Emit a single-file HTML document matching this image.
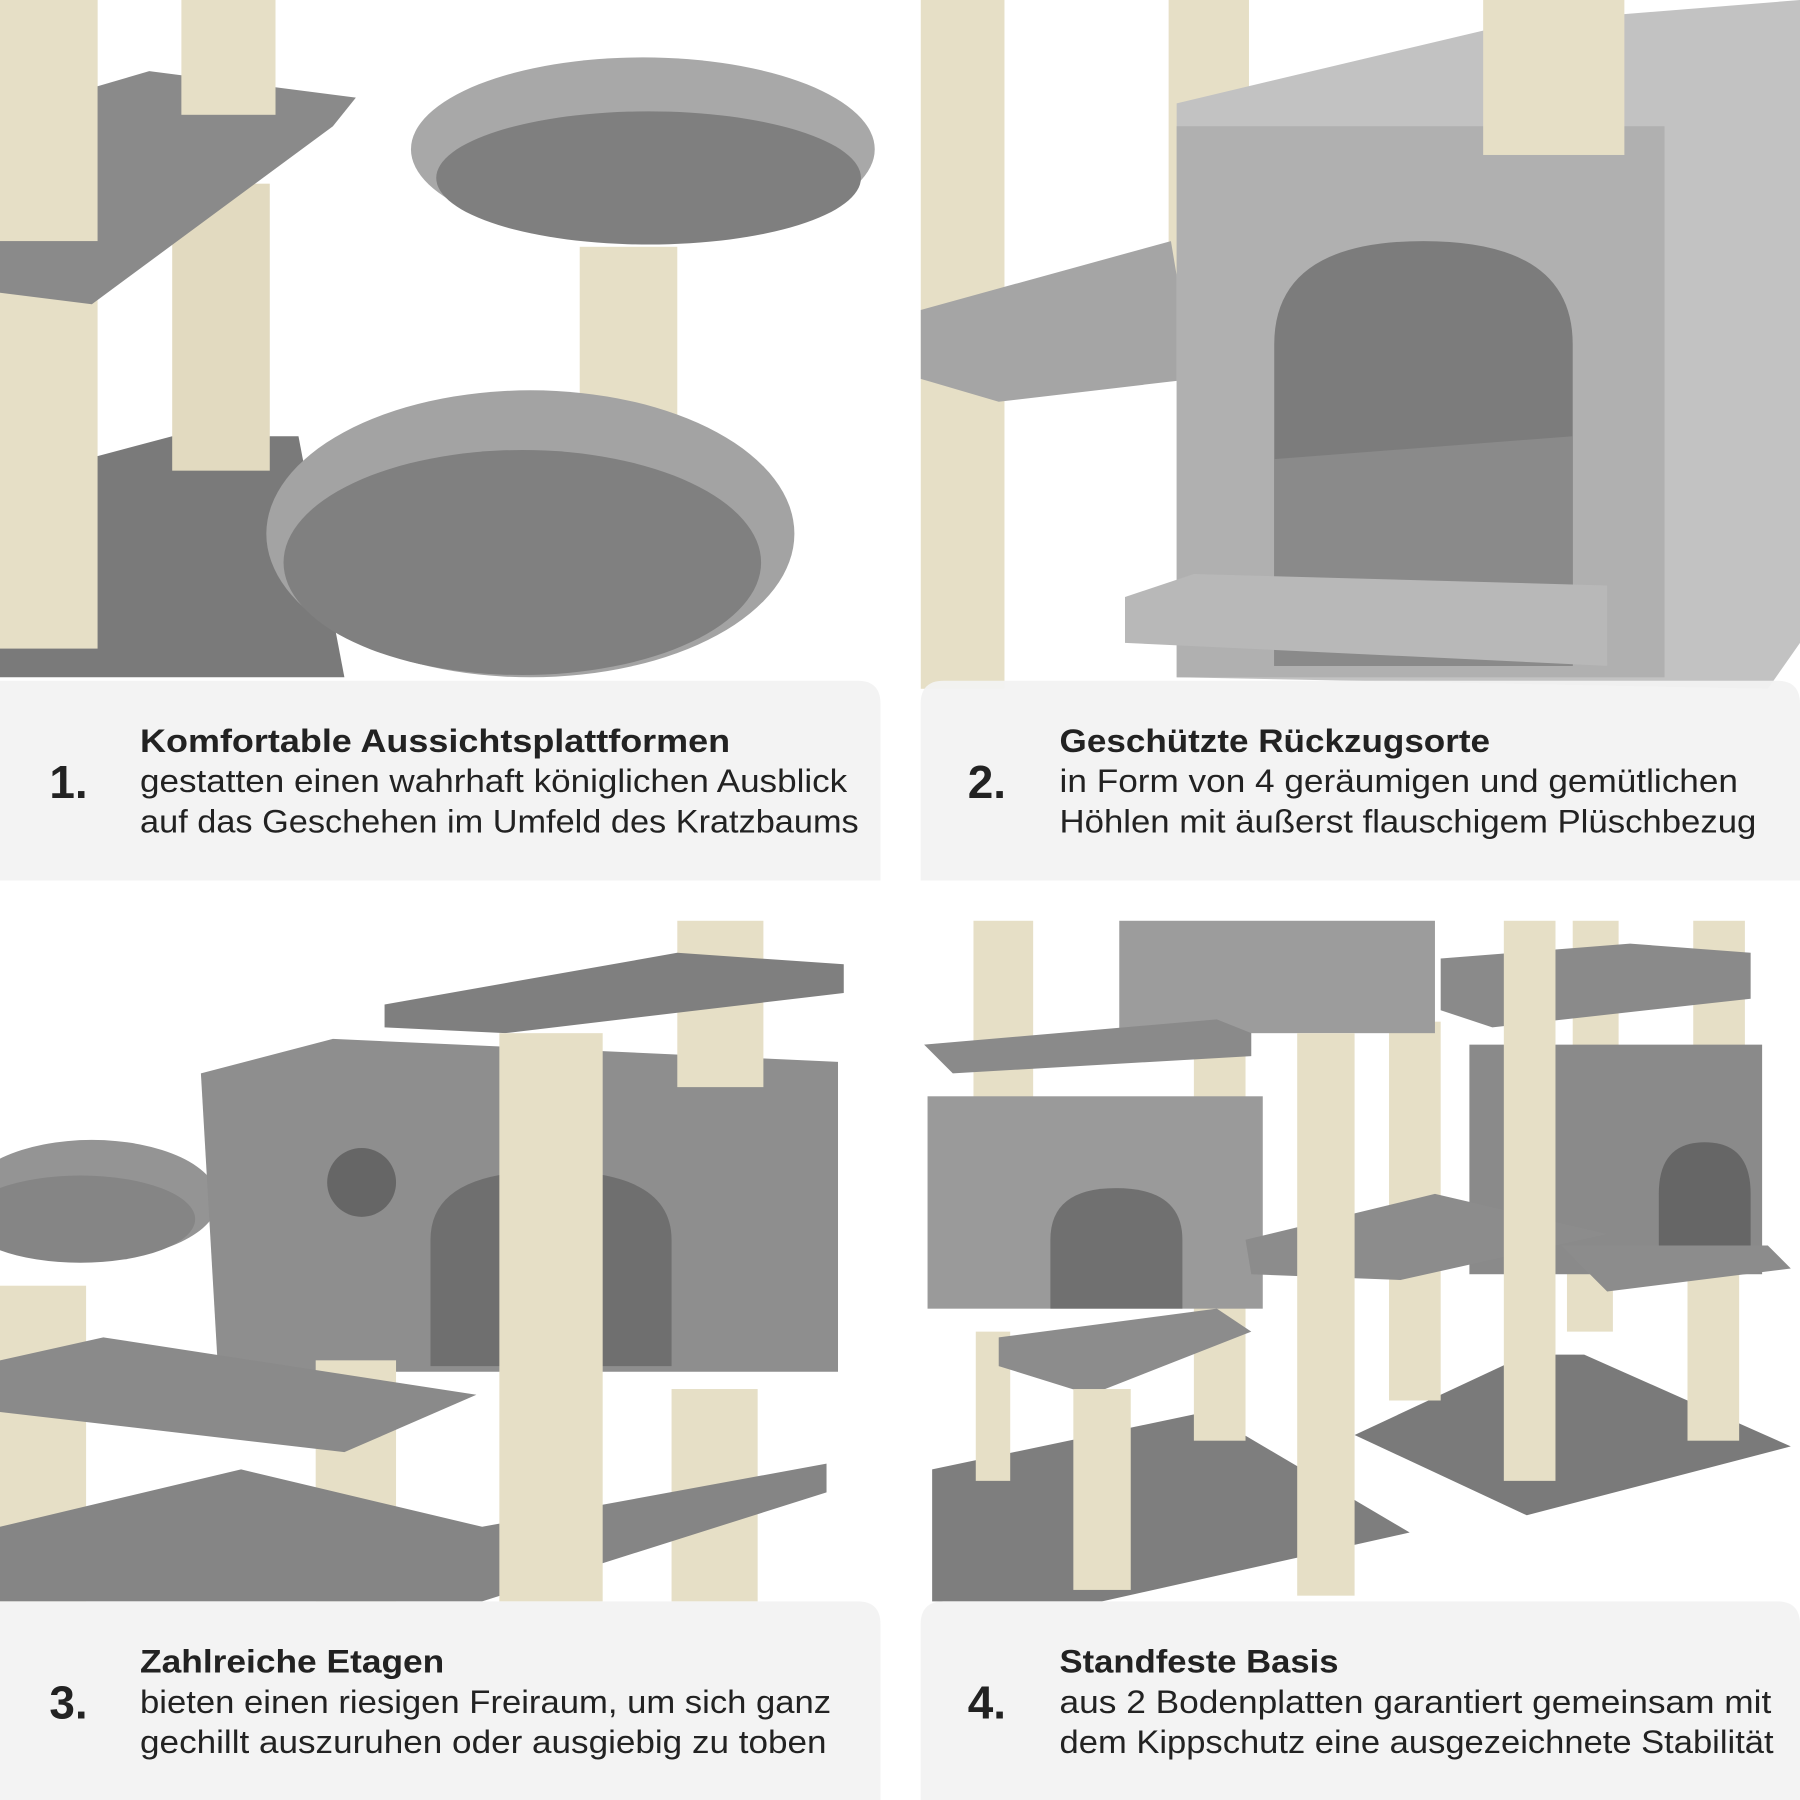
<!DOCTYPE html>
<html><head><meta charset="utf-8"><style>
html,body{margin:0;padding:0;background:#fff;}
svg{display:block;}
text{font-family:"Liberation Sans",sans-serif;fill:#222;}
.t{font-weight:bold;font-size:28px;}
.b{font-size:28px;}
.n{font-weight:bold;font-size:40px;}
</style></head><body>
<svg width="1800" height="1800" viewBox="0 0 1568 1568" xmlns="http://www.w3.org/2000/svg">
<rect width="1568" height="1568" fill="#fff"/>
<!-- Q1 -->
<polygon points="0,420 150,380 260,380 300,590 0,590" fill="#7a7a7a"/>
<rect x="0" y="0" width="85" height="565" fill="#e6dfc6"/>
<rect x="150" y="160" width="85" height="250" fill="#e2dac0"/>
<polygon points="0,100 130,62 310,85 290,110 80,265 0,255" fill="#8a8a8a"/>
<rect x="158" y="0" width="82" height="100" fill="#e6dfc6"/>
<rect x="0" y="0" width="85" height="210" fill="#e6dfc6"/>
<rect x="505" y="215" width="85" height="160" fill="#e6dfc6"/>
<ellipse cx="560" cy="130" rx="202" ry="80" fill="#a8a8a8"/>
<ellipse cx="565" cy="155" rx="185" ry="58" fill="#7f7f7f"/>
<ellipse cx="462" cy="465" rx="230" ry="125" fill="#a3a3a3"/>
<ellipse cx="455" cy="490" rx="208" ry="98" fill="#808080"/>
<!-- Q2 -->
<rect x="802" y="0" width="73" height="600" fill="#e6dfc6"/>
<rect x="1018" y="0" width="70" height="270" fill="#e6dfc6"/>
<polygon points="802,270 1020,210 1040,330 870,350 802,330" fill="#a5a5a5"/>
<polygon points="1025,90 1320,20 1568,0 1568,560 1540,600 1025,590" fill="#c2c2c2"/>
<rect x="1025" y="110" width="425" height="480" fill="#b0b0b0"/>
<path d="M1110 580 L1110 300 Q1110 210 1240 210 Q1370 210 1370 300 L1370 580 Z" fill="#7c7c7c"/>
<polygon points="1110,400 1370,380 1370,580 1110,580" fill="#8a8a8a"/>
<polygon points="980,520 1040,500 1400,510 1400,580 980,560" fill="#b8b8b8"/>
<rect x="1292" y="0" width="123" height="135" fill="#e6dfc6"/>
<!-- Q3 -->
<ellipse cx="80" cy="1045" rx="110" ry="52" fill="#949494"/>
<ellipse cx="70" cy="1062" rx="100" ry="38" fill="#858585"/>
<rect x="0" y="1120" width="75" height="275" fill="#e6dfc6"/>
<polygon points="175,935 290,905 730,925 730,1195 190,1195" fill="#8e8e8e"/>
<path d="M375 1190 L375 1080 Q375 1020 480 1020 Q585 1020 585 1080 L585 1190 Z" fill="#6f6f6f"/>
<circle cx="315" cy="1030" r="30" fill="#666"/>
<rect x="590" y="802" width="75" height="145" fill="#e6dfc6"/>
<polygon points="335,875 590,830 735,840 735,865 440,900 335,895" fill="#7f7f7f"/>
<rect x="275" y="1185" width="70" height="210" fill="#e6dfc6"/>
<rect x="585" y="1210" width="75" height="185" fill="#e6dfc6"/>
<polygon points="0,1185 90,1165 415,1215 300,1265 0,1230" fill="#8a8a8a"/>
<polygon points="0,1330 210,1280 420,1330 720,1275 720,1300 420,1395 0,1395" fill="#858585"/>
<rect x="435" y="900" width="90" height="495" fill="#e6dfc6"/>
<!-- Q4 -->
<polygon points="812,1280 1050,1230 1228,1335 960,1395 812,1395" fill="#7e7e7e"/>
<polygon points="1180,1250 1330,1180 1380,1180 1560,1260 1330,1320" fill="#7a7a7a"/>
<g fill="#e6dfc6">
<rect x="848" y="802" width="52" height="188"/>
<rect x="1040" y="902" width="45" height="63"/>
<rect x="1210" y="890" width="45" height="330"/>
<rect x="1370" y="802" width="40" height="123"/>
<rect x="1475" y="802" width="45" height="168"/>
<rect x="1365" y="1090" width="40" height="70"/>
<rect x="1470" y="1110" width="45" height="145"/>
<rect x="1040" y="1135" width="45" height="120"/>
<rect x="850" y="1160" width="30" height="130"/>
</g>
<rect x="975" y="802" width="275" height="98" fill="#9c9c9c"/>
<polygon points="805,910 1060,888 1090,900 1090,920 830,935" fill="#8a8a8a"/>
<polygon points="1255,835 1420,822 1525,830 1525,870 1300,895 1255,880" fill="#8a8a8a"/>
<rect x="808" y="955" width="292" height="185" fill="#9a9a9a"/>
<path d="M915 1140 L915 1080 Q915 1035 972 1035 Q1030 1035 1030 1080 L1030 1140 Z" fill="#707070"/>
<rect x="1280" y="910" width="255" height="200" fill="#8a8a8a"/>
<path d="M1445 1095 L1445 1040 Q1445 995 1485 995 Q1525 995 1525 1040 L1525 1095 Z" fill="#666"/>
<polygon points="1360,1085 1540,1085 1560,1105 1400,1125" fill="#8c8c8c"/>
<polygon points="1085,1080 1250,1040 1400,1075 1220,1115 1090,1110" fill="#8c8c8c"/>
<polygon points="870,1165 1060,1140 1090,1160 950,1215 870,1190" fill="#8c8c8c"/>
<g fill="#e6dfc6">
<rect x="1130" y="900" width="50" height="490"/>
<rect x="1310" y="802" width="45" height="488"/>
<rect x="935" y="1210" width="50" height="175"/>
</g>
<!-- gutters -->
<rect x="767" y="0" width="35" height="1568" fill="#fff"/>
<rect x="0" y="767" width="1568" height="35" fill="#fff"/>
<!-- panels -->
<g fill="#f2f2f2" fill-opacity="0.95">
<path d="M0 593 H747 Q767 593 767 613 V767 H0 Z"/>
<path d="M822 593 H1548 Q1568 593 1568 613 V767 H802 V613 Q802 593 822 593 Z"/>
<path d="M0 1395 H747 Q767 1395 767 1415 V1568 H0 Z"/>
<path d="M822 1395 H1548 Q1568 1395 1568 1415 V1568 H802 V1415 Q802 1395 822 1395 Z"/>
</g>
<text class="n" x="43" y="695">1.</text>
<text class="t" x="122" y="655" textLength="514" lengthAdjust="spacingAndGlyphs">Komfortable Aussichtsplattformen</text>
<text class="b" x="122" y="690" textLength="616" lengthAdjust="spacingAndGlyphs">gestatten einen wahrhaft königlichen Ausblick</text>
<text class="b" x="122" y="725" textLength="626" lengthAdjust="spacingAndGlyphs">auf das Geschehen im Umfeld des Kratzbaums</text>
<text class="n" x="843" y="695">2.</text>
<text class="t" x="923" y="655" textLength="375" lengthAdjust="spacingAndGlyphs">Geschützte Rückzugsorte</text>
<text class="b" x="923" y="690" textLength="591" lengthAdjust="spacingAndGlyphs">in Form von 4 geräumigen und gemütlichen</text>
<text class="b" x="923" y="725" textLength="607" lengthAdjust="spacingAndGlyphs">Höhlen mit äußerst flauschigem Plüschbezug</text>
<text class="n" x="43" y="1497">3.</text>
<text class="t" x="122" y="1457" textLength="265" lengthAdjust="spacingAndGlyphs">Zahlreiche Etagen</text>
<text class="b" x="122" y="1492" textLength="602" lengthAdjust="spacingAndGlyphs">bieten einen riesigen Freiraum, um sich ganz</text>
<text class="b" x="122" y="1527" textLength="598" lengthAdjust="spacingAndGlyphs">gechillt auszuruhen oder ausgiebig zu toben</text>
<text class="n" x="843" y="1497">4.</text>
<text class="t" x="923" y="1457" textLength="243" lengthAdjust="spacingAndGlyphs">Standfeste Basis</text>
<text class="b" x="923" y="1492" textLength="620" lengthAdjust="spacingAndGlyphs">aus 2 Bodenplatten garantiert gemeinsam mit</text>
<text class="b" x="923" y="1527" textLength="622" lengthAdjust="spacingAndGlyphs">dem Kippschutz eine ausgezeichnete Stabilität</text>
</svg>
</body></html>
